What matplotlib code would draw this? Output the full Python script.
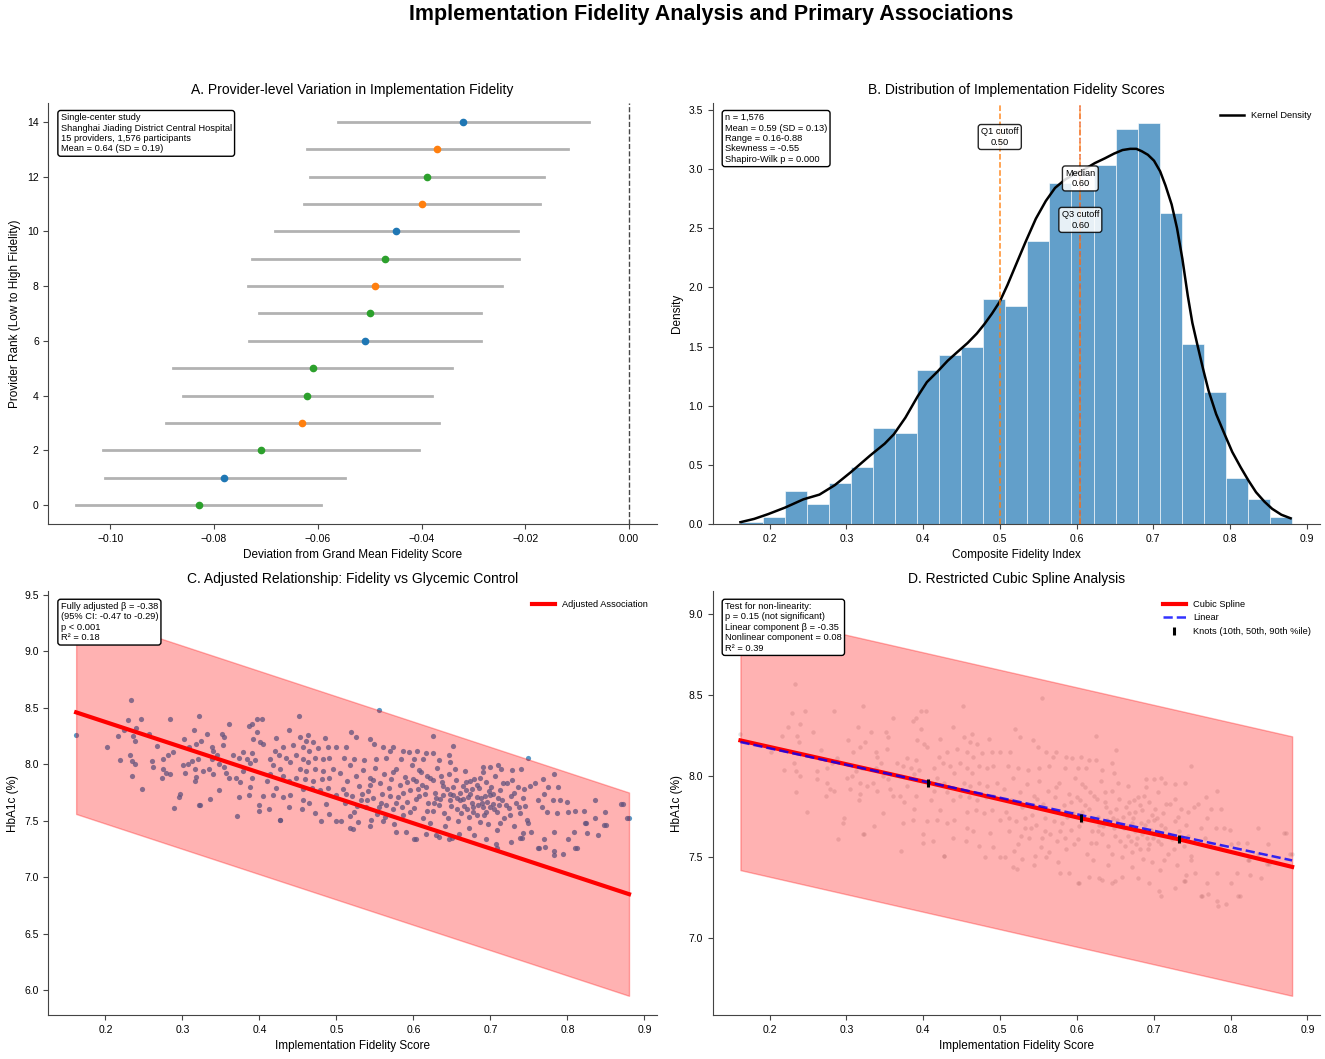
import matplotlib
matplotlib.use("Agg")
import matplotlib.pyplot as plt
import numpy as np

plt.rcParams["font.family"] = ["Liberation Sans", "DejaVu Sans"]
plt.rcParams["axes.edgecolor"] = "#444444"
plt.rcParams["xtick.color"] = "#444444"
plt.rcParams["ytick.color"] = "#444444"
plt.rcParams["xtick.labelcolor"] = "black"
plt.rcParams["ytick.labelcolor"] = "black"

# ---- A. provider-level deviations (rank 0 = lowest fidelity)
provider_rank = list(range(15))
provider_dev = [-0.083, -0.078, -0.071, -0.063, -0.062, -0.061, -0.051, -0.050,
                -0.049, -0.047, -0.045, -0.040, -0.039, -0.037, -0.032]
provider_lo = [-0.1066, -0.1011, -0.1014, -0.0892, -0.0860, -0.0879, -0.0733, -0.0714,
               -0.0735, -0.0727, -0.0682, -0.0626, -0.0616, -0.0620, -0.0562]
provider_hi = [-0.0593, -0.0548, -0.0405, -0.0367, -0.0379, -0.0341, -0.0286, -0.0286,
               -0.0244, -0.0212, -0.0215, -0.0172, -0.0163, -0.0118, -0.0078]
provider_group = [2, 0, 2, 1, 2, 2, 0, 2, 1, 2, 0, 1, 2, 1, 0]
group_colors = ["#1f77b4", "#ff7f0e", "#2ca02c"]

# ---- B. fidelity distribution (density histogram + KDE)
bin_edges = np.linspace(0.162, 0.881, 26)
hist_density = [0.022, 0.057, 0.28, 0.17, 0.345, 0.48, 0.81, 0.77, 1.30, 1.43,
                1.50, 1.90, 1.84, 2.39, 2.88, 2.82, 3.03, 3.34, 3.39, 2.63,
                1.52, 1.12, 0.39, 0.21, 0.057]
kde_x = [0.162, 0.180, 0.198, 0.220, 0.244, 0.265, 0.285, 0.306, 0.331, 0.350,
         0.362, 0.377, 0.393, 0.405, 0.419, 0.432, 0.444, 0.458, 0.470, 0.480,
         0.490, 0.500, 0.510, 0.521, 0.534, 0.547, 0.560, 0.572, 0.585, 0.598,
         0.611, 0.624, 0.637, 0.649, 0.660, 0.670, 0.678, 0.685, 0.693, 0.701,
         0.709, 0.716, 0.724, 0.731, 0.738, 0.745, 0.751, 0.757, 0.765, 0.772,
         0.782, 0.793, 0.803, 0.814, 0.824, 0.834, 0.845, 0.855, 0.867, 0.879]
kde_y = [0.017, 0.045, 0.085, 0.14, 0.21, 0.25, 0.33, 0.44, 0.58, 0.68,
         0.76, 0.90, 1.08, 1.20, 1.29, 1.38, 1.45, 1.53, 1.61, 1.69,
         1.78, 1.88, 2.02, 2.19, 2.39, 2.58, 2.73, 2.84, 2.91, 2.96,
         3.00, 3.05, 3.09, 3.13, 3.16, 3.17, 3.17, 3.15, 3.12, 3.07,
         2.98, 2.86, 2.70, 2.50, 2.24, 1.93, 1.70, 1.53, 1.31, 1.13,
         0.93, 0.76, 0.61, 0.48, 0.37, 0.27, 0.19, 0.13, 0.08, 0.05]
q1_cut = 0.50
median_cut = 0.605
q3_cut = 0.605

# ---- C/D. participant-level fidelity vs HbA1c
fidelity = [
    0.162, 0.233, 0.229, 0.246, 0.284, 0.321, 0.202, 0.216, 0.224, 0.240,
    0.236, 0.238, 0.257, 0.267, 0.219, 0.232, 0.234, 0.239, 0.234, 0.248,
    0.261, 0.262, 0.275, 0.281, 0.288, 0.275, 0.279, 0.273, 0.284, 0.297,
    0.296, 0.289, 0.302, 0.315, 0.318, 0.324, 0.332, 0.308, 0.307, 0.313,
    0.301, 0.304, 0.317, 0.320, 0.327, 0.318, 0.316, 0.321, 0.336, 0.338,
    0.340, 0.351, 0.354, 0.361, 0.353, 0.345, 0.338, 0.335, 0.340, 0.347,
    0.354, 0.357, 0.348, 0.360, 0.366, 0.373, 0.370, 0.375, 0.371, 0.373,
    0.379, 0.386, 0.391, 0.397, 0.403, 0.397, 0.392, 0.401, 0.405, 0.390,
    0.384, 0.388, 0.394, 0.379, 0.390, 0.388, 0.387, 0.399, 0.400, 0.405,
    0.410, 0.414, 0.418, 0.414, 0.420, 0.425, 0.438, 0.422, 0.431, 0.435,
    0.440, 0.427, 0.431, 0.438, 0.422, 0.418, 0.431, 0.440, 0.427, 0.413,
    0.438, 0.452, 0.453, 0.463, 0.461, 0.470, 0.485, 0.444, 0.457, 0.465,
    0.476, 0.489, 0.500, 0.448, 0.457, 0.463, 0.472, 0.483, 0.491, 0.453,
    0.461, 0.472, 0.483, 0.496, 0.448, 0.459, 0.470, 0.481, 0.491, 0.457,
    0.468, 0.479, 0.489, 0.500, 0.457, 0.465, 0.472, 0.480, 0.487, 0.491,
    0.500, 0.455,
    0.555, 0.625, 0.749, 0.877, 0.519, 0.526, 0.543, 0.513, 0.549, 0.560,
    0.573, 0.651, 0.569, 0.586, 0.605, 0.616, 0.625, 0.646, 0.594, 0.510,
    0.523, 0.536, 0.551, 0.564, 0.584, 0.601, 0.612, 0.633, 0.648,
    0.690, 0.700, 0.710, 0.714, 0.728, 0.740, 0.752, 0.758, 0.768, 0.775,
    0.782, 0.788, 0.769, 0.762, 0.781, 0.791, 0.799, 0.767, 0.773, 0.786,
    0.801, 0.810, 0.821, 0.836, 0.849, 0.869, 0.836, 0.847, 0.823, 0.825,
    0.808, 0.801, 0.782, 0.769, 0.762, 0.771, 0.782, 0.794, 0.810, 0.840,
    0.742, 0.753, 0.749, 0.739, 0.727, 0.707, 0.694, 0.679, 0.672, 0.659,
    0.646, 0.633, 0.616, 0.601, 0.590, 0.575, 0.560, 0.545, 0.528, 0.517,
    0.506, 0.544,
    0.505, 0.508, 0.511, 0.514, 0.517, 0.520, 0.523, 0.526, 0.529, 0.532,
    0.535, 0.538, 0.541, 0.544, 0.547, 0.550, 0.553, 0.556, 0.559, 0.562,
    0.565, 0.568, 0.571, 0.574, 0.577, 0.580, 0.583, 0.586, 0.589, 0.592,
    0.595, 0.598, 0.601, 0.604, 0.607, 0.610, 0.613, 0.616, 0.619, 0.622,
    0.625, 0.628, 0.631, 0.634, 0.637, 0.640, 0.643, 0.646, 0.649, 0.652,
    0.655, 0.658, 0.661, 0.664, 0.667, 0.670, 0.673, 0.676, 0.679, 0.682,
    0.685, 0.688, 0.691, 0.694, 0.697, 0.700, 0.703, 0.706, 0.709, 0.712,
    0.715, 0.718, 0.721, 0.724, 0.727, 0.730, 0.733, 0.736, 0.739, 0.742,
    0.745, 0.748,
    0.512, 0.527, 0.543, 0.558, 0.573, 0.587, 0.596, 0.603, 0.611, 0.618,
    0.626, 0.633, 0.639, 0.645, 0.651, 0.657, 0.662, 0.668, 0.674, 0.678,
    0.683, 0.687, 0.692, 0.696, 0.701, 0.705, 0.710, 0.716, 0.720, 0.726,
    0.731, 0.737, 0.744, 0.607, 0.621, 0.636, 0.648, 0.666, 0.684, 0.698,
    0.713, 0.728, 0.592, 0.578, 0.563, 0.548, 0.533, 0.518, 0.654, 0.672,
    0.690, 0.708, 0.641, 0.629, 0.615, 0.600, 0.585, 0.570, 0.555, 0.540,
    0.660, 0.665, 0.671, 0.677, 0.682, 0.689, 0.693, 0.699, 0.704, 0.711,
    0.694, 0.686, 0.676, 0.668, 0.656, 0.647, 0.638, 0.627, 0.617, 0.606,
    0.323, 0.427, 0.522, 0.578, 0.603, 0.629, 0.650, 0.709, 0.741, 0.763,
    0.783, 0.812, 0.824, 0.850, 0.872, 0.880,
]
hba1c = [
    8.26, 8.57, 8.39, 8.40, 8.40, 8.43, 8.15, 8.25, 8.30, 8.32,
    8.25, 8.21, 8.27, 8.16, 8.04, 8.08, 8.03, 8.00, 7.90, 7.78,
    8.03, 7.98, 8.05, 8.08, 8.11, 7.96, 7.92, 7.88, 7.91, 7.74,
    7.71, 7.61, 8.22, 8.30, 8.18, 8.21, 8.27, 8.15, 8.00, 8.03,
    7.99, 7.92, 7.96, 8.05, 7.94, 7.89, 7.85, 7.64, 7.69, 8.15,
    8.12, 8.27, 8.24, 8.36, 8.17, 8.08, 8.05, 7.96, 7.91, 8.00,
    7.98, 7.92, 7.77, 7.88, 8.08, 8.06, 7.88, 7.84, 7.54, 7.71,
    8.11, 8.34, 8.36, 8.40, 8.40, 8.29, 8.22, 8.20, 8.18, 8.10,
    8.05, 8.01, 8.04, 7.94, 7.88, 7.80, 7.73, 7.64, 7.59, 7.72,
    7.85, 7.91, 7.99, 8.05, 8.12, 8.08, 8.30, 8.23, 8.15, 8.06,
    8.02, 7.96, 7.90, 7.85, 7.79, 7.73, 7.71, 7.73, 7.51, 7.60,
    7.62, 8.43, 8.24, 8.26, 8.21, 8.20, 8.23, 8.17, 8.15, 8.12,
    8.14, 8.15, 8.15, 8.08, 8.05, 8.02, 8.06, 8.05, 8.06, 7.96,
    7.94, 7.96, 7.94, 7.96, 7.88, 7.87, 7.85, 7.87, 7.88, 7.78,
    7.79, 7.77, 7.79, 7.73, 7.68, 7.66, 7.57, 7.50, 7.65, 7.56,
    7.50, 7.60,
    8.48, 8.25, 8.06, 7.52, 8.29, 8.24, 8.22, 8.15, 8.18, 8.15,
    8.15, 8.16, 8.12, 8.12, 8.12, 8.10, 8.10, 8.08, 8.11, 8.06,
    8.05, 8.04, 8.05, 8.06, 8.05, 8.05, 8.05, 8.04, 8.02,
    7.98, 7.98, 7.99, 7.96, 7.95, 7.96, 7.81, 7.83, 7.87, 7.80,
    7.91, 7.80, 7.74, 7.68, 7.68, 7.68, 7.67, 7.62, 7.58, 7.57,
    7.58, 7.59, 7.59, 7.68, 7.58, 7.65, 7.52, 7.46, 7.48, 7.39,
    7.40, 7.34, 7.40, 7.34, 7.26, 7.27, 7.23, 7.21, 7.26, 7.37,
    7.39, 7.40, 7.48, 7.35, 7.31, 7.29, 7.34, 7.37, 7.44, 7.38,
    7.34, 7.36, 7.38, 7.34, 7.40, 7.47, 7.50, 7.51, 7.49, 7.44,
    7.50, 7.45,
    7.92, 7.78, 7.66, 7.85, 7.99, 7.72, 7.58, 7.90, 7.81, 7.68,
    7.95, 7.62, 7.76, 7.88, 7.70, 7.97, 7.56, 7.83, 7.74, 7.91,
    7.64, 7.79, 7.87, 7.60, 7.96, 7.71, 7.82, 7.55, 7.89, 7.67,
    7.77, 7.99, 7.61, 7.85, 7.72, 7.93, 7.52, 7.80, 7.66, 7.88,
    7.59, 7.75, 7.97, 7.69, 7.84, 7.57, 7.78, 7.91, 7.63, 7.73,
    7.86, 7.50, 7.68, 7.81, 7.94, 7.60, 7.74, 7.66, 7.87, 7.55,
    7.79, 7.70, 7.62, 7.84, 7.47, 7.73, 7.65, 7.90, 7.58, 7.77,
    7.68, 7.52, 7.83, 7.61, 7.72, 7.45, 7.66, 7.80, 7.57, 7.70,
    7.63, 7.51,
    7.74, 7.63, 7.82, 7.66, 7.93, 7.75, 7.58, 7.69, 7.82, 7.59,
    7.86, 7.64, 7.73, 7.52, 7.80, 7.70, 7.57, 7.77, 7.85, 7.62,
    7.71, 7.88, 7.55, 7.67, 7.80, 7.60, 7.70, 7.83, 7.64, 7.55,
    7.75, 7.62, 7.78, 7.95, 7.48, 7.90, 7.68, 7.63, 7.64, 7.76,
    7.48, 7.86, 7.84, 7.66, 7.53, 7.86, 7.74, 7.54, 7.96, 7.53,
    7.93, 7.42, 7.45, 7.70, 7.74, 7.87, 7.62, 7.72, 7.62, 7.68,
    7.75, 7.69, 7.71, 7.58, 7.82, 7.66, 7.72, 7.62, 7.74, 7.64,
    7.58, 7.49, 7.78, 7.84, 7.60, 7.74, 7.81, 7.66, 7.90, 7.78,
    7.64, 7.51, 7.43, 7.40, 7.34, 7.37, 7.35, 7.26, 7.35, 7.26,
    7.20, 7.26, 7.48, 7.46, 7.65, 7.52,
]

# adjusted association (panel C): fitted line and its band at the ends of the range
adj_x = [0.162, 0.880]
adj_fit = [8.46, 6.85]
adj_upper = [9.36, 7.75]
adj_lower = [7.56, 5.95]

# restricted cubic spline (panel D)
spline_x = [0.162, 0.406, 0.605, 0.733, 0.880]
spline_y = [8.22, 7.96, 7.74, 7.61, 7.44]
linear_x = [0.162, 0.880]
linear_y = [8.21, 7.48]
spline_band_x = [0.162, 0.880]
spline_upper = [9.02, 8.245]
spline_lower = [7.42, 6.645]
knot_x = [0.406, 0.605, 0.733]
knot_y = [7.96, 7.74, 7.61]

box_style = dict(boxstyle="round,pad=0.3", facecolor="white", edgecolor="black", linewidth=1)


def clean(ax):
    ax.spines["top"].set_visible(False)
    ax.spines["right"].set_visible(False)
    ax.tick_params(labelsize=7.5, length=3.5)


fig = plt.figure(figsize=(13.25, 10.59), dpi=100)
fig.suptitle("Implementation Fidelity Analysis and Primary Associations",
             fontsize=15.5, fontweight="bold", x=0.537, y=0.996)

ax_a = fig.add_axes([0.0366, 0.505, 0.459, 0.398])
ax_b = fig.add_axes([0.538, 0.505, 0.458, 0.398])
ax_c = fig.add_axes([0.0366, 0.0415, 0.459, 0.4])
ax_d = fig.add_axes([0.538, 0.0415, 0.458, 0.4])

# A
for r, d, lo, hi, g in zip(provider_rank, provider_dev, provider_lo, provider_hi, provider_group):
    ax_a.plot([lo, hi], [r, r], color="gray", alpha=0.6, linewidth=2, zorder=1)
    ax_a.plot(d, r, "o", color=group_colors[g], markersize=4.5, zorder=2)
ax_a.axvline(0, color="#333333", linestyle="--", linewidth=1, alpha=0.9)
ax_a.set_yticks([0, 2, 4, 6, 8, 10, 12, 14])
ax_a.set_xlabel("Deviation from Grand Mean Fidelity Score", fontsize=8.5)
ax_a.set_ylabel("Provider Rank (Low to High Fidelity)", fontsize=8.5)
ax_a.set_title("A. Provider-level Variation in Implementation Fidelity", fontsize=10)
ax_a.text(0.02, 0.975,
          "Single-center study\nShanghai Jiading District Central Hospital\n"
          "15 providers, 1,576 participants\nMean = 0.64 (SD = 0.19)",
          transform=ax_a.transAxes, fontsize=6.7, va="top", ha="left", bbox=box_style)
clean(ax_a)

# B
ax_b.bar(bin_edges[:-1], hist_density, width=np.diff(bin_edges), align="edge",
         color="#1f77b4", alpha=0.7, edgecolor="white", linewidth=0.6)
ax_b.plot(kde_x, kde_y, color="black", linewidth=1.8, label="Kernel Density")
ax_b.axvline(q1_cut, color="#ff7f0e", linestyle="--", linewidth=1.1, alpha=0.9)
ax_b.axvline(median_cut, color="#e4572e", linestyle="--", linewidth=1.1, alpha=0.8)
ax_b.axvline(q3_cut, color="#ff7f0e", linestyle="-.", linewidth=1.1, alpha=0.6)
lab_box = dict(boxstyle="round,pad=0.3", facecolor="white", edgecolor="black",
               linewidth=1, alpha=0.85)
ax_b.text(q1_cut, 3.27, f"Q1 cutoff\n{q1_cut:.2f}", ha="center", va="center",
          fontsize=6.7, bbox=lab_box)
ax_b.text(median_cut, 2.92, f"Median\n{median_cut:.2f}", ha="center", va="center",
          fontsize=6.7, bbox=lab_box)
ax_b.text(q3_cut, 2.57, f"Q3 cutoff\n{q3_cut:.2f}", ha="center", va="center",
          fontsize=6.7, bbox=lab_box)
ax_b.text(0.02, 0.975,
          "n = 1,576\nMean = 0.59 (SD = 0.13)\nRange = 0.16-0.88\n"
          "Skewness = -0.55\nShapiro-Wilk p = 0.000",
          transform=ax_b.transAxes, fontsize=6.7, va="top", ha="left", bbox=box_style)
ax_b.legend(loc="upper right", frameon=False, fontsize=6.7, handlelength=2.5)
ax_b.set_xlabel("Composite Fidelity Index", fontsize=8.5)
ax_b.set_ylabel("Density", fontsize=8.5)
ax_b.set_title("B. Distribution of Implementation Fidelity Scores", fontsize=10)
clean(ax_b)

# C
ax_c.scatter(fidelity, hba1c, s=14, color="#1f77b4", alpha=0.75, linewidths=0, zorder=1)
ax_c.fill_between(adj_x, adj_lower, adj_upper, color="red", alpha=0.3, zorder=2)
ax_c.plot(adj_x, adj_fit, color="red", linewidth=3, label="Adjusted Association", zorder=3)
ax_c.text(0.02, 0.975,
          "Fully adjusted β = -0.38\n(95% CI: -0.47 to -0.29)\np < 0.001\nR² = 0.18",
          transform=ax_c.transAxes, fontsize=6.7, va="top", ha="left", bbox=box_style,
          zorder=5)
ax_c.legend(loc="upper right", frameon=False, fontsize=6.7, handlelength=2.5)
ax_c.set_xlabel("Implementation Fidelity Score", fontsize=8.5)
ax_c.set_ylabel("HbA1c (%)", fontsize=8.5)
ax_c.set_title("C. Adjusted Relationship: Fidelity vs Glycemic Control", fontsize=10)
clean(ax_c)

# D
ax_d.scatter(fidelity, hba1c, s=10, color="gray", alpha=0.22, linewidths=0, zorder=1)
ax_d.fill_between(spline_band_x, spline_lower, spline_upper, color="red", alpha=0.3, zorder=2)
ax_d.plot(spline_x, spline_y, color="red", linewidth=3, label="Cubic Spline", zorder=3)
ax_d.plot(linear_x, linear_y, color="blue", linestyle="--", linewidth=1.8, alpha=0.8,
          label="Linear", zorder=4)
ax_d.plot(knot_x, knot_y, linestyle="none", marker="|", color="black", markersize=6,
          markeredgewidth=2.2, label="Knots (10th, 50th, 90th %ile)", zorder=5)
ax_d.text(0.02, 0.975,
          "Test for non-linearity:\np = 0.15 (not significant)\nLinear component β = -0.35\n"
          "Nonlinear component = 0.08\nR² = 0.39",
          transform=ax_d.transAxes, fontsize=6.7, va="top", ha="left", bbox=box_style,
          zorder=6)
ax_d.legend(loc="upper right", frameon=False, fontsize=6.7, handlelength=2.5)
ax_d.set_xlabel("Implementation Fidelity Score", fontsize=8.5)
ax_d.set_ylabel("HbA1c (%)", fontsize=8.5)
ax_d.set_title("D. Restricted Cubic Spline Analysis", fontsize=10)
clean(ax_d)

fig.savefig("out.png", dpi=100)
